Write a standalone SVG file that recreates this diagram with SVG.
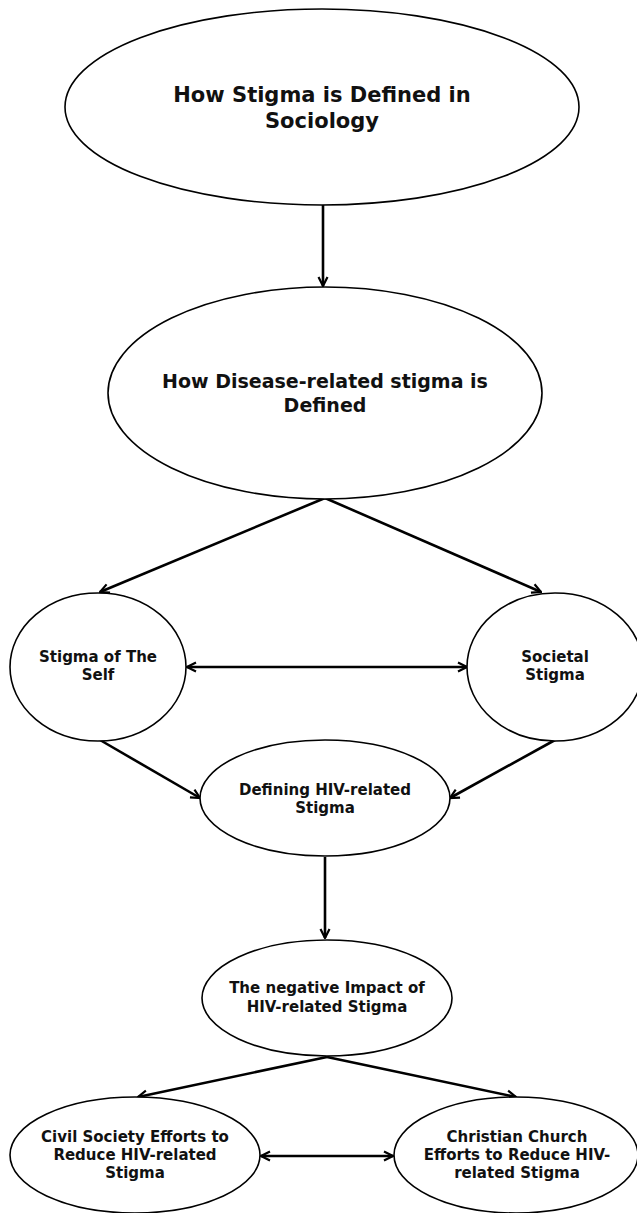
<svg xmlns="http://www.w3.org/2000/svg" width="637" height="1213" viewBox="0 0 637 1213">
<style>
.node{fill:#fff;stroke:#000;stroke-width:1.6}
.lbl{font-family:"DejaVu Sans","Liberation Sans",sans-serif;font-weight:bold;fill:#111;text-anchor:middle}
.edge{fill:none;stroke:#000;stroke-width:2.6}
</style>
<defs>
<marker id="ah" viewBox="0 0 12 12" refX="11" refY="6" markerWidth="12" markerHeight="12" markerUnits="userSpaceOnUse" orient="auto-start-reverse">
<path d="M2,1.5 L11,6 L2,10.5" fill="none" stroke="#000" stroke-width="2.2"/>
</marker>
</defs>
<rect width="637" height="1213" fill="#fff"/>
<g id="connectors">
<line class="edge" x1="323" y1="205" x2="323" y2="286" marker-end="url(#ah)"/>
<line class="edge" x1="325" y1="498" x2="100" y2="592" marker-end="url(#ah)"/>
<line class="edge" x1="325" y1="498" x2="541" y2="592" marker-end="url(#ah)"/>
<line class="edge" x1="187" y1="667" x2="467" y2="667" marker-start="url(#ah)" marker-end="url(#ah)"/>
<line class="edge" x1="100" y1="740" x2="200" y2="798" marker-end="url(#ah)"/>
<line class="edge" x1="555" y1="740" x2="450" y2="798" marker-end="url(#ah)"/>
<line class="edge" x1="325" y1="857" x2="325" y2="938" marker-end="url(#ah)"/>
<line class="edge" x1="327" y1="1057" x2="138" y2="1097" marker-end="url(#ah)"/>
<line class="edge" x1="327" y1="1057" x2="516" y2="1097" marker-end="url(#ah)"/>
<line class="edge" x1="261" y1="1156" x2="393" y2="1156" marker-start="url(#ah)" marker-end="url(#ah)"/>
</g>
<g id="n1">
<ellipse class="node" cx="322" cy="107" rx="257" ry="98"/>
<text class="lbl" x="322" y="102" font-size="21">How Stigma is Defined in</text>
<text class="lbl" x="322" y="128" font-size="21">Sociology</text>
</g>
<g id="n2">
<ellipse class="node" cx="325" cy="393" rx="217" ry="106"/>
<text class="lbl" x="325" y="388" font-size="19">How Disease-related stigma is</text>
<text class="lbl" x="325" y="412" font-size="19">Defined</text>
</g>
<g id="n3">
<ellipse class="node" cx="98" cy="667" rx="88" ry="74"/>
<text class="lbl" x="98" y="662" font-size="15">Stigma of The</text>
<text class="lbl" x="98" y="680" font-size="15">Self</text>
</g>
<g id="n4">
<ellipse class="node" cx="555" cy="667" rx="88" ry="74"/>
<text class="lbl" x="555" y="662" font-size="15">Societal</text>
<text class="lbl" x="555" y="680" font-size="15">Stigma</text>
</g>
<g id="n5">
<ellipse class="node" cx="325" cy="798" rx="125" ry="58"/>
<text class="lbl" x="325" y="795" font-size="15">Defining HIV-related</text>
<text class="lbl" x="325" y="813" font-size="15">Stigma</text>
</g>
<g id="n6">
<ellipse class="node" cx="327" cy="998" rx="125" ry="58"/>
<text class="lbl" x="327" y="993" font-size="15">The negative Impact of</text>
<text class="lbl" x="327" y="1012" font-size="15">HIV-related Stigma</text>
</g>
<g id="n7">
<ellipse class="node" cx="135" cy="1155" rx="125" ry="58"/>
<text class="lbl" x="135" y="1142" font-size="15">Civil Society Efforts to</text>
<text class="lbl" x="135" y="1160" font-size="15">Reduce HIV-related</text>
<text class="lbl" x="135" y="1178" font-size="15">Stigma</text>
</g>
<g id="n8">
<ellipse class="node" cx="516" cy="1155" rx="122" ry="58"/>
<text class="lbl" x="517" y="1142" font-size="15">Christian Church</text>
<text class="lbl" x="517" y="1160" font-size="15">Efforts to Reduce HIV-</text>
<text class="lbl" x="517" y="1178" font-size="15">related Stigma</text>
</g>
</svg>
